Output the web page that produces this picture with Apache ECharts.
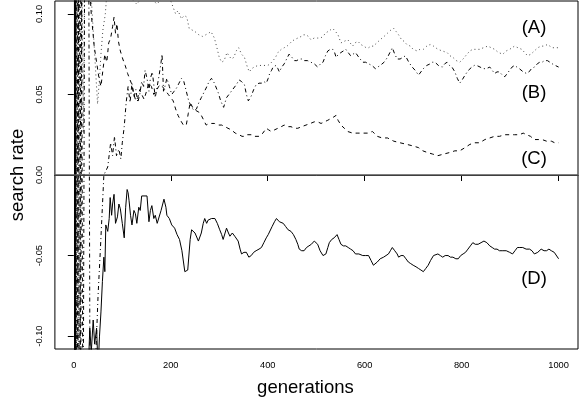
<!DOCTYPE html>
<html>
<head>
<meta charset="utf-8">
<script src="https://cdn.jsdelivr.net/npm/echarts@6/dist/echarts.min.js"></script>
<style>
html,body{margin:0;padding:0;background:#fff;}
#chart{width:582px;height:402px;}
</style>
</head>
<body>
<div id="chart"></div>
<script>
// ---- data ----
const seriesNames = ['(A)', '(B)', '(C)', '(D)'];
const xTicks = [0, 200, 400, 600, 800, 1000];
const xTickLabels = ['0', '200', '400', '600', '800', '1000'];
const yTicks = [-0.10, -0.05, 0.00, 0.05, 0.10];
const yTickLabels = ['-0.10', '-0.05', '0.00', '0.05', '0.10'];

const genA = [1,2,3,5,7,10,12,16,20,24,30,38,44,49,53,56,60,65,70,90,110,130,150,171,190,200,205,210,215,222,228,233,238,244,250,258,265,272,278,283,290,296,300,305,310,316,320,325,330,335,340,346,352,358,362,367,372,380,390,400,405,411,416,421,428,434,440,444,450,455,462,469,474,479,484,489,496,503,509,514,519,524,529,534,540,545,551,558,565,570,575,580,586,592,598,603,608,613,618,625,632,640,647,654,660,665,670,676,681,687,694,700,708,714,721,728,735,742,751,760,770,776,782,789,796,803,811,817,823,830,837,845,854,861,868,876,885,892,899,904,909,916,924,930,936,943,950,957,964,970,977,982,987,993,1000];
const rateA = [0.4,-0.3,0.3,-0.2,0.25,-0.15,0.2,0.15,0.026,0.2,0.14,0.1,0.07,0.044,0.06,0.075,0.09,0.1,0.12,0.115,0.112,0.106,0.114,0.106,0.112,0.108,0.104,0.100,0.102,0.097,0.099,0.098,0.091,0.090,0.089,0.087,0.086,0.087,0.088,0.089,0.085,0.078,0.073,0.070,0.071,0.076,0.074,0.072,0.073,0.077,0.079,0.075,0.073,0.067,0.064,0.066,0.067,0.068,0.068,0.068,0.069,0.071,0.073,0.076,0.078,0.079,0.080,0.081,0.083,0.084,0.085,0.086,0.087,0.087,0.086,0.084,0.085,0.085,0.085,0.086,0.088,0.089,0.090,0.091,0.089,0.087,0.082,0.083,0.084,0.082,0.080,0.082,0.083,0.081,0.080,0.079,0.079,0.080,0.080,0.082,0.084,0.086,0.088,0.090,0.091,0.089,0.087,0.084,0.083,0.081,0.080,0.078,0.077,0.078,0.078,0.080,0.081,0.080,0.078,0.077,0.076,0.074,0.073,0.071,0.070,0.072,0.075,0.077,0.078,0.078,0.078,0.079,0.080,0.079,0.078,0.076,0.075,0.077,0.078,0.079,0.080,0.079,0.078,0.076,0.074,0.075,0.077,0.079,0.080,0.080,0.081,0.080,0.079,0.079,0.079];

const genB = [1,3,6,9,12,15,19,23,27,31,34,38,45,50,55,62,70,76,80,84,88,93,97,100,104,108,112,116,120,124,128,132,136,140,144,147,151,155,158,162,165,168,172,176,180,182,185,188,192,197,202,207,212,217,222,227,232,237,243,248,253,258,263,268,273,279,284,290,294,298,303,309,315,320,325,330,335,341,346,352,356,360,366,371,376,382,387,392,397,401,404,408,411,417,421,424,429,434,439,444,450,455,460,465,470,475,482,489,496,503,509,514,519,524,529,534,538,541,546,551,556,561,566,571,576,581,588,596,602,608,615,622,627,632,640,647,652,657,662,667,673,679,684,691,698,704,711,716,721,728,735,740,745,752,760,765,770,775,780,786,791,796,801,807,814,821,826,831,838,844,851,858,863,868,873,878,884,889,894,899,904,909,914,919,927,934,939,944,950,956,961,966,971,977,982,987,993,1000];
const rateB = [-0.3,0.3,-0.25,0.3,-0.3,0.25,-0.2,0.2,0.15,0.12,-0.2,-0.2,-0.115,-0.075,-0.045,0.0,0.005,0.02,0.012,0.024,0.012,0.016,0.010,0.02,0.03,0.045,0.055,0.045,0.057,0.048,0.053,0.045,0.05,0.058,0.055,0.065,0.06,0.052,0.06,0.064,0.065,0.048,0.055,0.062,0.07,0.075,0.052,0.055,0.06,0.055,0.05,0.052,0.054,0.057,0.06,0.058,0.052,0.046,0.042,0.040,0.041,0.045,0.048,0.051,0.054,0.058,0.060,0.057,0.054,0.051,0.046,0.042,0.048,0.050,0.052,0.054,0.056,0.059,0.058,0.056,0.050,0.046,0.049,0.053,0.056,0.057,0.057,0.058,0.057,0.060,0.063,0.065,0.067,0.068,0.066,0.064,0.067,0.069,0.072,0.075,0.073,0.071,0.071,0.072,0.072,0.071,0.071,0.070,0.069,0.067,0.069,0.070,0.074,0.077,0.078,0.078,0.076,0.073,0.075,0.076,0.077,0.078,0.076,0.074,0.075,0.076,0.073,0.070,0.070,0.069,0.068,0.066,0.067,0.068,0.070,0.073,0.076,0.079,0.075,0.072,0.072,0.073,0.074,0.070,0.067,0.065,0.062,0.064,0.066,0.068,0.069,0.070,0.070,0.068,0.067,0.069,0.070,0.068,0.067,0.064,0.060,0.057,0.059,0.062,0.065,0.067,0.068,0.068,0.067,0.066,0.066,0.067,0.065,0.063,0.064,0.064,0.062,0.061,0.063,0.065,0.067,0.068,0.067,0.066,0.064,0.063,0.064,0.066,0.067,0.069,0.070,0.070,0.071,0.071,0.070,0.069,0.068,0.067];

const genC = [1,3,5,8,11,14,17,22,30,36,42,47,52,56,60,64,68,72,76,80,83,86,89,92,96,101,106,111,116,120,124,128,132,136,140,145,150,155,160,165,170,175,180,185,190,195,200,205,210,215,220,226,232,236,240,245,252,258,263,268,273,279,284,290,296,305,312,318,325,333,341,347,352,358,366,373,382,390,397,402,407,414,421,428,434,441,448,455,462,470,479,488,496,503,510,517,524,530,536,541,545,551,558,565,575,586,596,606,616,626,636,647,660,673,687,700,711,720,729,740,751,763,776,786,796,807,817,827,837,848,858,868,878,889,899,909,919,927,934,942,950,958,966,975,985,992,1000];
const rateC = [0.3,-0.3,0.25,-0.2,0.3,-0.2,0.25,0.15,0.13,0.1,0.08,0.07,0.06,0.055,0.065,0.075,0.07,0.082,0.085,0.092,0.098,0.088,0.094,0.083,0.077,0.072,0.068,0.063,0.059,0.056,0.050,0.046,0.048,0.053,0.050,0.047,0.052,0.057,0.055,0.050,0.052,0.055,0.056,0.054,0.052,0.050,0.048,0.046,0.041,0.037,0.034,0.031,0.031,0.038,0.045,0.042,0.040,0.039,0.037,0.034,0.031,0.032,0.032,0.032,0.031,0.031,0.030,0.029,0.028,0.026,0.025,0.024,0.024,0.025,0.025,0.024,0.024,0.026,0.029,0.028,0.027,0.028,0.029,0.030,0.031,0.030,0.030,0.029,0.029,0.030,0.031,0.032,0.033,0.033,0.032,0.033,0.034,0.035,0.036,0.037,0.034,0.031,0.029,0.027,0.026,0.026,0.026,0.026,0.027,0.024,0.023,0.023,0.021,0.020,0.019,0.018,0.017,0.015,0.014,0.013,0.012,0.013,0.014,0.015,0.015,0.017,0.019,0.020,0.020,0.022,0.023,0.024,0.024,0.025,0.025,0.025,0.025,0.026,0.025,0.024,0.022,0.022,0.022,0.021,0.021,0.020,0.020];

const genD = [1,2,3,4,5,10,20,30,33,36,40,43,47,50,53,56,59,62,64,66,70,73,75,78,80,83,86,90,93,96,100,104,107,110,112,114,117,120,124,127,130,134,137,140,151,155,158,161,165,168,172,175,180,186,190,192,197,202,208,213,218,223,229,235,240,243,247,250,257,263,267,270,274,277,284,291,296,301,305,308,312,315,319,322,327,332,336,339,343,346,351,356,361,366,371,376,382,387,392,397,401,404,409,414,418,421,424,427,432,437,442,448,453,458,462,465,470,475,480,485,490,496,500,503,508,514,520,524,527,532,537,543,547,551,556,561,566,571,576,581,588,596,602,608,613,618,622,626,632,639,644,649,653,657,662,667,670,675,680,685,690,695,700,706,711,716,721,726,731,736,742,746,751,756,761,766,772,777,782,788,793,798,803,808,813,818,823,828,834,840,846,852,858,863,868,873,878,885,892,899,905,910,915,920,926,933,940,945,950,957,964,970,975,980,985,991,995,1000];
const rateD = [0.3,-0.3,0.2,-0.4,-0.2,-0.25,-0.18,-0.12,-0.095,-0.11,-0.09,-0.105,-0.095,-0.12,-0.10,-0.085,-0.066,-0.051,-0.06,-0.031,-0.035,-0.027,-0.014,-0.025,-0.018,-0.012,-0.03,-0.026,-0.018,-0.021,-0.03,-0.039,-0.02,-0.009,-0.011,-0.016,-0.025,-0.031,-0.022,-0.024,-0.03,-0.02,-0.022,-0.013,-0.013,-0.029,-0.022,-0.019,-0.027,-0.025,-0.03,-0.031,-0.022,-0.015,-0.02,-0.025,-0.027,-0.031,-0.033,-0.037,-0.04,-0.047,-0.060,-0.059,-0.04,-0.034,-0.033,-0.036,-0.041,-0.036,-0.030,-0.027,-0.030,-0.028,-0.027,-0.027,-0.030,-0.034,-0.037,-0.040,-0.036,-0.033,-0.036,-0.038,-0.036,-0.038,-0.039,-0.041,-0.046,-0.049,-0.048,-0.048,-0.051,-0.050,-0.048,-0.047,-0.046,-0.045,-0.042,-0.039,-0.037,-0.036,-0.032,-0.029,-0.027,-0.027,-0.029,-0.029,-0.030,-0.032,-0.034,-0.035,-0.037,-0.040,-0.043,-0.046,-0.047,-0.047,-0.045,-0.044,-0.043,-0.041,-0.042,-0.043,-0.047,-0.050,-0.049,-0.045,-0.042,-0.040,-0.039,-0.037,-0.040,-0.043,-0.044,-0.044,-0.045,-0.046,-0.047,-0.049,-0.049,-0.050,-0.050,-0.050,-0.053,-0.056,-0.055,-0.054,-0.052,-0.051,-0.050,-0.049,-0.047,-0.045,-0.047,-0.049,-0.051,-0.050,-0.050,-0.052,-0.054,-0.055,-0.056,-0.057,-0.058,-0.059,-0.060,-0.058,-0.056,-0.053,-0.050,-0.049,-0.049,-0.050,-0.051,-0.050,-0.050,-0.051,-0.051,-0.052,-0.052,-0.050,-0.049,-0.048,-0.046,-0.044,-0.042,-0.043,-0.043,-0.042,-0.041,-0.042,-0.044,-0.045,-0.046,-0.046,-0.047,-0.047,-0.047,-0.048,-0.049,-0.047,-0.045,-0.045,-0.045,-0.046,-0.046,-0.047,-0.049,-0.048,-0.046,-0.047,-0.047,-0.046,-0.047,-0.048,-0.049,-0.052];

// ---- chart ----
const FONT = "'Liberation Sans', Arial, Helvetica, sans-serif";
function pairs(g, v) { return g.map((x, i) => [x, v[i]]); }
function tickText(ticks, labels) {
  return function (v) {
    for (let i = 0; i < ticks.length; i++) { if (Math.abs(ticks[i] - v) < 1e-9) return labels[i]; }
    return '';
  };
}

const chart = echarts.init(document.getElementById('chart'), null, {renderer: 'canvas'});
const lineStyles = [
  {color: '#444', width: 1, type: [1, 3]},
  {color: '#000', width: 1, type: [1, 3, 4, 3]},
  {color: '#000', width: 1, type: [4, 4]},
  {color: '#000', width: 1, type: 'solid'}
];
const gens = [genA, genB, genC, genD];
const rates = [rateA, rateB, rateC, rateD];

const series = seriesNames.map((name, k) => ({
  name: name,
  type: 'line',
  data: pairs(gens[k], rates[k]),
  showSymbol: false,
  symbol: 'none',
  clip: true,
  lineStyle: lineStyles[k],
  z: 3
}));
series[0].markLine = {
  silent: true,
  symbol: 'none',
  label: {show: false},
  lineStyle: {color: '#555', width: 1.5, type: 'solid'},
  data: [{yAxis: 0}]
};

chart.setOption({
  animation: false,
  backgroundColor: '#fff',
  grid: {left: 53, right: 4, top: 1, bottom: 53, show: true, borderColor: '#000', borderWidth: 1, backgroundColor: 'transparent'},
  xAxis: {
    type: 'value', min: -39, max: 1040,
    name: 'generations', nameLocation: 'middle', nameGap: 29,
    nameTextStyle: {fontFamily: FONT, fontSize: 18.5, color: '#000', padding: [0, 22, 0, 0]},
    axisLine: {show: true, lineStyle: {color: '#000', width: 1}},
    axisTick: {show: true, customValues: xTicks, length: 6, lineStyle: {color: '#000'}},
    axisLabel: {show: true, customValues: xTicks, margin: 12, fontFamily: FONT, fontSize: 9.3, color: '#000',
      formatter: tickText(xTicks, xTickLabels)},
    splitLine: {show: false}
  },
  yAxis: {
    type: 'value', min: -0.108, max: 0.108,
    name: 'search rate', nameLocation: 'middle', nameGap: 27,
    nameTextStyle: {fontFamily: FONT, fontSize: 18.5, color: '#000'},
    axisLine: {show: true, lineStyle: {color: '#000', width: 1}},
    axisTick: {show: true, customValues: yTicks, length: 6, lineStyle: {color: '#000'}},
    axisLabel: {show: true, customValues: yTicks, rotate: 90, margin: 11, fontFamily: FONT, fontSize: 9.3, color: '#000',
      formatter: tickText(yTicks, yTickLabels)},
    splitLine: {show: false}
  },
  graphic: [
    {type: 'text', x: 534, y: 28, style: {text: seriesNames[0], font: '18.5px ' + FONT, fill: '#000', textAlign: 'center', textVerticalAlign: 'middle'}},
    {type: 'text', x: 534, y: 93, style: {text: seriesNames[1], font: '18.5px ' + FONT, fill: '#000', textAlign: 'center', textVerticalAlign: 'middle'}},
    {type: 'text', x: 534, y: 159, style: {text: seriesNames[2], font: '18.5px ' + FONT, fill: '#000', textAlign: 'center', textVerticalAlign: 'middle'}},
    {type: 'text', x: 534, y: 279, style: {text: seriesNames[3], font: '18.5px ' + FONT, fill: '#000', textAlign: 'center', textVerticalAlign: 'middle'}}
  ],
  series: series
});
</script>
</body>
</html>
